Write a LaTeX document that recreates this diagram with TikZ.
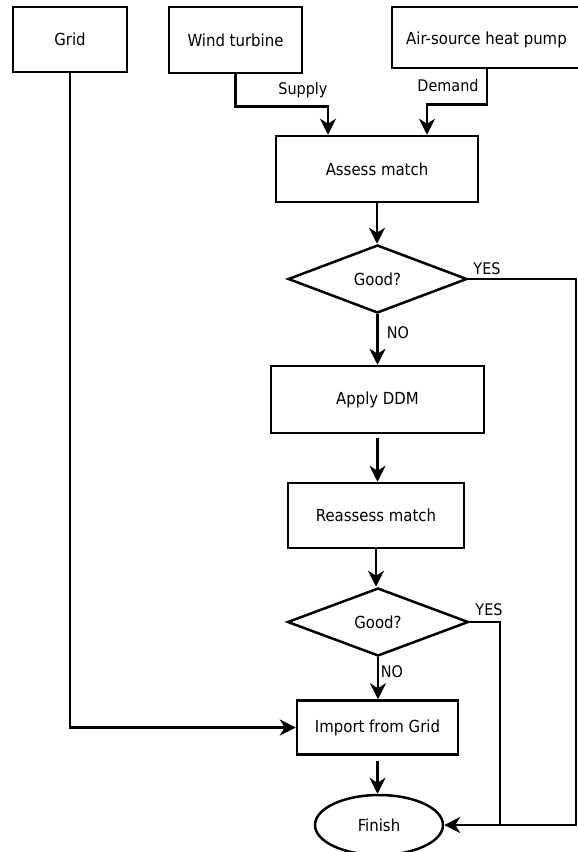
\documentclass[tikz,border=0pt]{standalone}
\usepackage{fontspec}
\setmainfont{DejaVu Sans Condensed}
\usetikzlibrary{arrows.meta,shapes.geometric}
\tikzset{
  box/.style={draw,line width=2.5pt,rectangle,inner sep=0pt,font=\fontsize{16.6}{19}\selectfont},
  dia/.style={draw,line width=2.5pt,diamond,aspect=2.6,inner sep=0pt,font=\fontsize{16.6}{19}\selectfont},
  oval/.style={draw,line width=2.5pt,ellipse,inner sep=0pt,font=\fontsize{16.6}{19}\selectfont},
  lbl/.style={font=\fontsize{16}{19}\selectfont,inner sep=0pt},
  conn/.style={line width=2.5pt},
  arr/.style={conn,-{Stealth[length=16pt,width=16pt,inset=5pt]}},
}
\begin{document}
\begin{tikzpicture}[x=1pt,y=-1pt]
\useasboundingbox (0,0) rectangle (578,852);
\node[box,minimum width=114pt,minimum height=65pt] (grid) at (70,39.5) {Grid};
\node[box,minimum width=133pt,minimum height=66pt] (wind) at (235.5,40) {Wind turbine};
\node[box,minimum width=190pt,minimum height=61pt] (ashp) at (487,37.5) {};
\node[lbl,font=\fontsize{16.6}{19}\selectfont] (ashpt) at (486.5,40) {Air-source heat pump};
\node[box,minimum width=202pt,minimum height=66pt] (assess) at (377,169) {Assess match};
\node[dia,minimum width=179pt,minimum height=68pt] (d1) at (377.5,279) {Good?};
\node[box,minimum width=213pt,minimum height=67pt] (ddm) at (377.5,399.5) {Apply DDM};
\node[box,minimum width=176pt,minimum height=65pt] (reassess) at (376,515.5) {Reassess match};
\node[dia,minimum width=181pt,minimum height=68pt] (d2) at (378,622) {Good?};
\node[box,minimum width=161pt,minimum height=54pt] (import) at (377.5,727.5) {Import from Grid};
\node[oval,minimum width=128pt,minimum height=60pt] (finish) at (379,825) {Finish};

\node[lbl] (supply) at (303,90) {Supply};
\node[lbl] (demand) at (448,86) {Demand};
\node[lbl] (yes1) at (487,269) {YES};
\node[lbl] (no1) at (398,333) {NO};
\node[lbl] (yes2) at (489,610) {YES};
\node[lbl] (no2) at (392,672) {NO};

\coordinate (c1) at (576,0);
\coordinate (c2) at (500,825);

\draw[arr] (grid.south) |- (import.west);
\draw[arr] (wind.south) -- ++(0,32) -| ([xshift=-49pt]assess.north);
\draw[arr] (ashp.south) -- ++(0,35) -| ([xshift=50pt]assess.north);
\draw[arr] (assess.south) -- (assess.south |- d1.north);
\draw[arr] (d1.south) -- (d1.south |- ddm.north);
\draw[arr,shorten <=4pt] (ddm.south) -- (ddm.south |- reassess.north);
\draw[arr] (reassess.south) -- (reassess.south |- d2.north);
\draw[arr] (d2.south) -- (d2.south |- import.north);
\draw[arr,shorten <=5pt] (import.south) -- (import.south |- finish.north);
\draw[arr] (d1.east) -- (d1.east -| c1) |- (finish.east);
\draw[conn] (d2.east) -| (c2);
\end{tikzpicture}
\end{document}
